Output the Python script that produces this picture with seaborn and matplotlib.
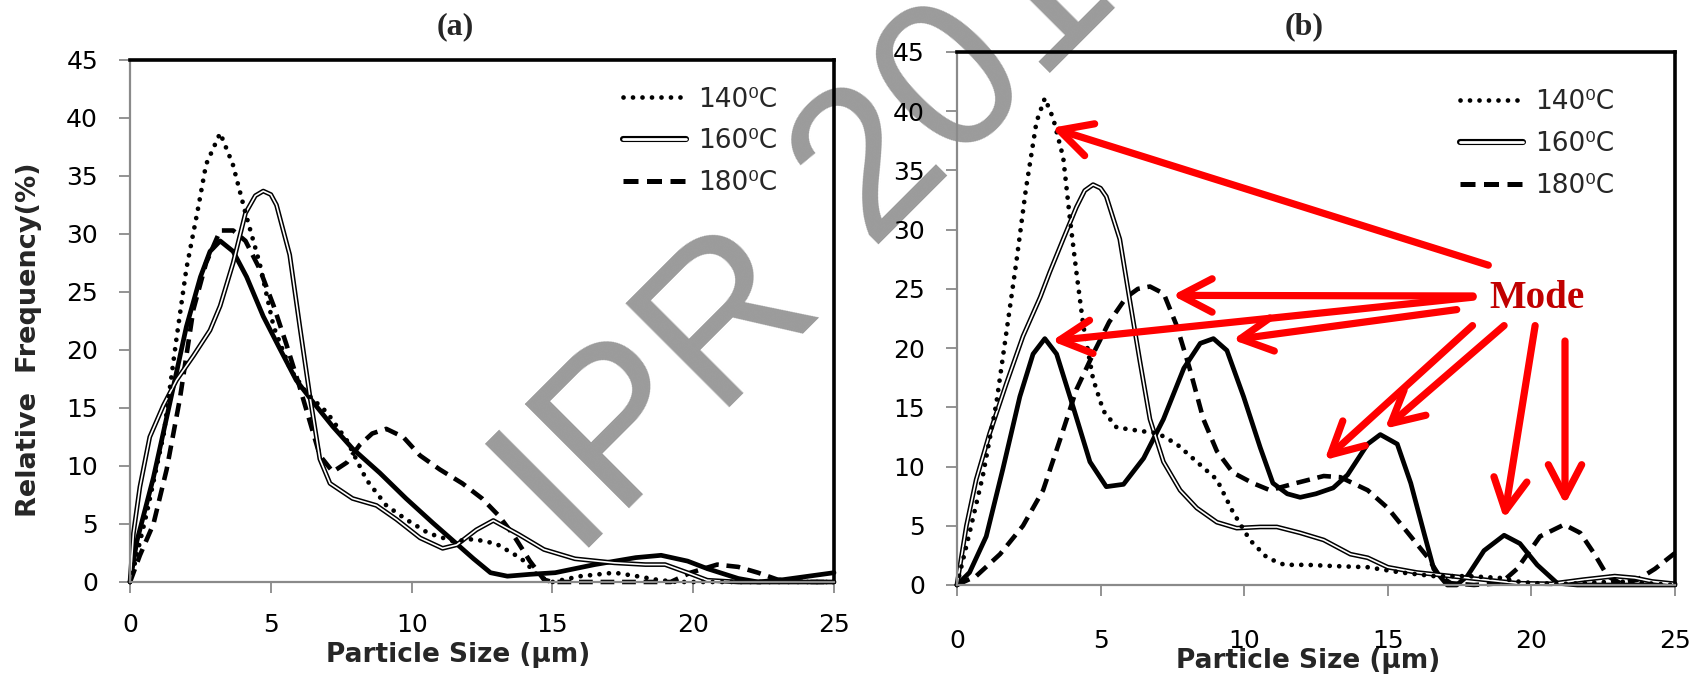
import matplotlib
matplotlib.use("Agg")
import matplotlib.pyplot as plt
import seaborn as sns
from matplotlib.lines import Line2D
from matplotlib.legend_handler import HandlerTuple

# ---- panel (a) ----
a140_x = [0, 0.12, 0.6, 1.2, 1.65, 2.0, 2.4, 2.7, 3.2, 3.65, 4.1, 4.6, 5.1, 5.7, 6.3, 7.0, 7.7, 8.4, 9.1, 9.8,
          10.6, 11.5, 12.2, 13.0, 13.7, 14.0, 14.5, 15.0, 16.0, 17.2, 18.0, 18.7, 19.4, 20.5, 22, 23.5, 25]
a140_y = [0, 1.1, 6, 12.8, 21, 27, 32, 36, 38.7, 36, 31.8, 27.5, 22, 18.3, 16.2, 14.6, 12.2, 8.8, 6.6, 5.4,
          4.2, 3.5, 3.7, 3.3, 2.3, 1.8, 0.5, 0, 0.5, 0.8, 0.5, 0.2, 0, 0, 0, 0, 0]

a160_x = [0, 0.12, 0.35, 0.7, 1.18, 1.65, 2.25, 2.84, 3.2, 3.66, 4.1, 4.45, 4.73, 5.0, 5.2, 5.67, 6.03, 6.4, 6.74,
          7.1, 7.9, 8.75, 9.46, 10.3, 11.1, 11.6, 12.3, 12.9, 13.8, 14.7, 15.8, 17.2, 18.3, 19.0, 19.8, 20.5,
          21.6, 23, 25]
a160_y = [0, 4.2, 8.2, 12.5, 15.2, 17.4, 19.5, 21.7, 23.8, 27.5, 31.8, 33.3, 33.7, 33.4, 32.5, 28.2, 22, 15.8,
          10.6, 8.5, 7.2, 6.6, 5.4, 3.8, 2.9, 3.2, 4.5, 5.3, 4.1, 2.8, 2.0, 1.65, 1.5, 1.5, 0.8, 0.15,
          0, 0, 0]

a180_x = [0, 0.35, 0.83, 1.3, 1.77, 2.25, 2.7, 3.2, 3.66, 4.1, 4.6, 5.1, 5.55, 6.0, 6.4, 6.74, 7.2, 7.7, 8.15,
          8.6, 9.1, 9.7, 10.3, 11.0, 11.8, 12.5, 13.1, 13.6, 14.2, 14.7, 15.0, 17, 19.2, 19.9, 20.85, 21.6,
          22.3, 23.0, 24, 25]
a180_y = [0, 2.3, 5, 9.7, 15.8, 23.5, 27.5, 30.3, 30.3, 29.4, 27, 23.8, 20.5, 17, 13.7, 10.9, 9.5, 10.3, 11.8,
          12.8, 13.2, 12.5, 10.9, 9.7, 8.5, 7.2, 5.7, 4.1, 1.8, 0.2, 0, 0, 0, 0.8, 1.5, 1.3,
          0.8, 0.2, 0, 0]

a_sol_x = [0, 0.24, 0.83, 1.42, 2.0, 2.5, 2.84, 3.2, 3.66, 4.14, 4.73, 5.3, 5.9, 6.5, 7.2, 7.9, 8.87, 9.8,
           10.75, 11.5, 12.2, 12.8, 13.4, 14.2, 15.1, 16.5, 17.96, 18.86, 19.8, 20.5, 21.6, 22.3, 23.2, 24.1, 25]
a_sol_y = [0, 3.5, 9, 15.5, 22, 26.3, 28.5, 29.4, 28.5, 26.3, 22.9, 20.2, 17.4, 15.5, 13.4, 11.5, 9.4, 7.2,
           5.1, 3.5, 2.0, 0.8, 0.5, 0.66, 0.8, 1.5, 2.1, 2.3, 1.8, 1.15, 0.3, 0, 0.2, 0.5, 0.8]

# ---- panel (b) ----
b140_x = [0, 0.44, 0.9, 1.37, 1.72, 2.07, 2.4, 2.77, 3.06, 3.35, 3.7, 3.93, 4.16, 4.4, 4.74, 5.1, 5.56, 6.4,
          7.0, 7.65, 8.35, 9.05, 9.6, 10.2, 10.8, 11.4, 12.2, 13.1, 14.3, 15.44, 16.6, 17.77, 18.9, 19.5,
          20.1, 21.25, 23, 25]
b140_y = [0, 4.4, 9.2, 15.3, 21.3, 27.3, 33.4, 39.1, 41.1, 39.4, 36.1, 31, 26.4, 21.9, 17.4, 14.7, 13.3, 13,
          12.8, 11.9, 10.4, 8.9, 6.2, 3.8, 2.3, 1.7, 1.7, 1.6, 1.5, 1.06, 0.75, 0.75, 0.6, 0.3,
          0.15, 0.1, 0.3, 0]

b160_x = [0, 0.33, 0.67, 1.14, 1.72, 2.3, 2.9, 3.23, 3.7, 4.16, 4.45, 4.74, 5.0, 5.2, 5.67, 6.0, 6.37, 6.72,
          7.19, 7.77, 8.35, 9.05, 9.74, 10.56, 11.14, 11.95, 12.77, 13.7, 14.3, 15, 16, 17.2, 18.35, 19.5,
          20.7, 21.8, 22.9, 23.6, 24.2, 25]
b160_y = [0, 5, 8.9, 12.8, 17, 21, 24.3, 26.4, 29.2, 31.9, 33.3, 33.8, 33.5, 32.8, 29.2, 24.3, 18.9, 14,
          10.4, 8, 6.5, 5.3, 4.8, 4.9, 4.9, 4.4, 3.8, 2.6, 2.3, 1.5, 1.06, 0.75, 0.45, 0.15,
          0.1, 0.45, 0.75, 0.6, 0.3, 0.1]

b180_x = [0, 0.67, 1.5, 2.3, 3.0, 3.58, 4.16, 4.74, 5.3, 5.9, 6.3, 6.72, 7.2, 7.65, 8.1, 8.58, 9.05, 9.6, 10.3,
          10.9, 11.8, 12.77, 13.35, 14.3, 15.0, 15.7, 16.4, 16.8, 17.2, 18.0, 18.93, 19.5, 20.3, 21.14, 21.7,
          22.2, 22.65, 23.1, 23.7, 24.3, 25]
b180_y = [0, 0.75, 2.6, 5, 8, 12.2, 16.5, 19.5, 22.2, 24.3, 25.0, 25.2, 24.6, 21.9, 18.3, 14, 11.3, 9.5, 8.6,
          8, 8.6, 9.2, 9.1, 8.0, 6.5, 4.4, 2.3, 0.75, 0.15, 0, 0.15, 1.36, 4.1, 5.1, 4.4,
          2.6, 0.75, 0.15, 0.45, 1.36, 2.7]

b_sol_x = [0, 0.44, 1.02, 1.6, 2.19, 2.65, 3.06, 3.47, 4.05, 4.63, 5.2, 5.8, 6.5, 7.19, 7.9, 8.47, 8.93, 9.4,
           9.98, 10.56, 11.0, 11.5, 11.95, 12.5, 13.1, 13.6, 14.3, 14.74, 15.33, 15.8, 16.26, 16.6, 17.07,
           17.4, 17.77, 18.35, 19.05, 19.6, 20.2, 20.9, 21.6, 23, 25]
b_sol_y = [0, 1.06, 4.1, 9.8, 15.9, 19.5, 20.8, 19.5, 15, 10.4, 8.3, 8.5, 10.7, 14, 18.3, 20.4, 20.8, 19.8,
           15.9, 11.6, 8.6, 7.7, 7.4, 7.7, 8.2, 9.3, 11.9, 12.7, 11.9, 8.6, 4.4, 1.36, 0,
           0, 0.75, 2.9, 4.2, 3.5, 1.7, 0.15, 0, 0, 0]

legend_labels = ["140⁰C", "160⁰C", "180⁰C"]
x_ticks = [0, 5, 10, 15, 20, 25]
y_ticks = [0, 5, 10, 15, 20, 25, 30, 35, 40, 45]

# "Mode" arrows in panel (b): (tail, tip) in data units
mode_text_pos = (20.2, 24.2)
mode_arrows = [
    ((18.5, 27.0), (3.3, 38.6)),
    ((17.97, 24.4), (7.5, 24.45)),
    ((17.97, 24.3), (3.3, 20.6)),
    ((17.4, 23.25), (9.6, 20.7)),
    ((17.95, 21.9), (12.8, 10.55)),
    ((19.05, 21.9), (14.9, 13.2)),
    ((20.13, 21.9), (19.05, 5.6)),
    ((21.17, 20.6), (21.17, 6.8)),
]

sns.set_theme(style="white")
plt.rcParams['font.family'] = ['DejaVu Sans']

fig = plt.figure(figsize=(17, 6.83), dpi=100)
ax_a = fig.add_axes([0.0765, 0.1479, 0.4141, 0.7643])
ax_b = fig.add_axes([0.5629, 0.1435, 0.4224, 0.7804])

DOT = (0, (0.01, 2.0))
DASH = (0, (3.0, 1.7))


def draw_panel(ax, d140, d160, d180, dsol):
    ax.set_facecolor('none')
    sns.lineplot(x=dsol[0], y=dsol[1], ax=ax, color='black', lw=3.4, sort=False,
                 estimator=None, clip_on=False)
    sns.lineplot(x=d180[0], y=d180[1], ax=ax, color='black', lw=3.3, sort=False,
                 estimator=None, linestyle=DASH, clip_on=False)
    sns.lineplot(x=d160[0], y=d160[1], ax=ax, color='black', lw=3.4, sort=False,
                 estimator=None, clip_on=False)
    sns.lineplot(x=d160[0], y=d160[1], ax=ax, color='white', lw=1.2, sort=False,
                 estimator=None, clip_on=False)
    sns.lineplot(x=d140[0], y=d140[1], ax=ax, color='black', lw=3.4, sort=False,
                 estimator=None, linestyle=DOT, dash_capstyle='round', clip_on=False)

    ax.set_xlim(0, 25)
    ax.set_ylim(0, 45)
    ax.set_xticks(x_ticks)
    ax.set_yticks(y_ticks)
    ax.set_xlabel('')
    ax.set_ylabel('')
    for s in ['left', 'bottom']:
        ax.spines[s].set_color('#8a8a8a')
        ax.spines[s].set_linewidth(1.6)
    for s in ['top', 'right']:
        ax.spines[s].set_color('black')
        ax.spines[s].set_linewidth(2.6)
    ax.tick_params(axis='both', direction='out', length=8, width=1.3, color='#8a8a8a',
                   labelsize=18, labelcolor='black', bottom=True, left=True)

    h140 = Line2D([], [], color='black', lw=3.4, linestyle=DOT, dash_capstyle='round')
    h160 = (Line2D([], [], color='black', lw=4.4, solid_capstyle='round'),
            Line2D([], [], color='white', lw=2.0, solid_capstyle='round'))
    h180 = Line2D([], [], color='black', lw=3.6, linestyle=DASH)
    return [h140, h160, h180]


leg_kw = dict(loc='upper right', frameon=False, fontsize=19, handlelength=2.4, handletextpad=0.45,
              labelspacing=0.6, borderaxespad=0, borderpad=0,
              handler_map={tuple: HandlerTuple(ndivide=1, pad=0)})

handles = draw_panel(ax_a, (a140_x, a140_y), (a160_x, a160_y), (a180_x, a180_y), (a_sol_x, a_sol_y))
ax_a.legend(handles, legend_labels, bbox_to_anchor=(0.919, 0.949), **leg_kw)
ax_a.tick_params(axis='x', pad=14)
ax_a.tick_params(axis='y', pad=15)

handles = draw_panel(ax_b, (b140_x, b140_y), (b160_x, b160_y), (b180_x, b180_y), (b_sol_x, b_sol_y))
ax_b.legend(handles, legend_labels, bbox_to_anchor=(0.915, 0.930), **leg_kw)
ax_b.tick_params(axis='x', pad=24)
ax_b.tick_params(axis='y', pad=15)

# axis titles
ax_a.set_ylabel('Relative  Frequency(%)', fontsize=19.5, fontweight='bold')
ax_a.yaxis.set_label_coords(-0.125, 0.464)
ax_a.set_xlabel('Particle Size (μm)', fontsize=19, fontweight='bold')
ax_a.xaxis.set_label_coords(0.466, -0.115)
ax_b.set_xlabel('Particle Size (μm)', fontsize=19, fontweight='bold')
ax_b.xaxis.set_label_coords(0.489, -0.118)

ax_a.text(0.462, 1.063, '(a)', transform=ax_a.transAxes, ha='center', va='center',
          fontsize=23, fontweight='bold', family='Liberation Serif')
ax_b.text(0.483, 1.047, '(b)', transform=ax_b.transAxes, ha='center', va='center',
          fontsize=23, fontweight='bold', family='Liberation Serif')

# mode annotation
ax_b.text(mode_text_pos[0], mode_text_pos[1], 'Mode', color='#c00000', fontsize=28,
          fontweight='bold', family='Liberation Serif', ha='center', va='center')
for tail, tip in mode_arrows:
    ax_b.annotate('', xy=tip, xytext=tail,
                  arrowprops=dict(arrowstyle='->,head_length=1.15,head_width=0.6', color='red',
                                  lw=5.2, shrinkA=0, shrinkB=0, mutation_scale=20))

# watermark
fig.text(0.3348, 0.1977, 'IPR', rotation=45, rotation_mode='anchor', ha='left', va='baseline',
         fontsize=154, color='#9b9b9b', family='Liberation Sans', zorder=-1)
fig.text(0.5106, 0.6413, '2016', rotation=45, rotation_mode='anchor', ha='left', va='baseline',
         fontsize=154, color='#9b9b9b', family='Liberation Sans', zorder=-1)

fig.savefig('out.png', dpi=100, facecolor='white')
